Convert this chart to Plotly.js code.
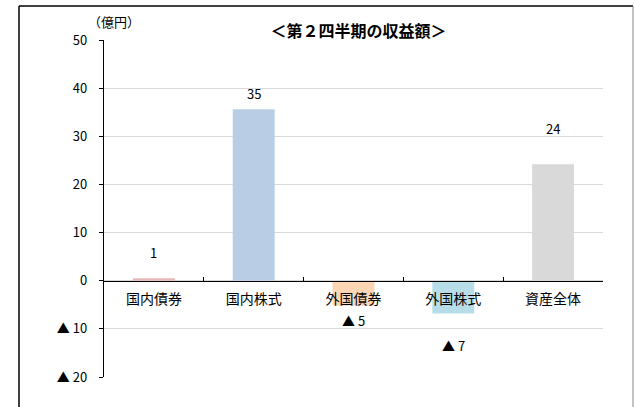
<!DOCTYPE html>
<html>
<head>
<meta charset="utf-8">
<script src="https://cdn.plot.ly/plotly-3.0.1.min.js"></script>
<style>
  html, body { margin: 0; padding: 0; background: #fff; }
  #chart { width: 635px; height: 407px; }
</style>
</head>
<body>
<div id="chart"></div>
<script>
const categories = ["国内債券", "国内株式", "外国債券", "外国株式", "資産全体"];
const values = [0.5, 35.6, -5.2, -6.8, 24.2];
const valueLabels = ["1", "35", "▲ 5", "▲ 7", "24"];
const barColors = ["#E6B9B8", "#B9CDE5", "#FCD5B5", "#B7DEE8", "#D9D9D9"];
const yTickVals = [50, 40, 30, 20, 10, 0, -10, -20];
const yTickText = ["50", "40", "30", "20", "10", "0", "▲ 10", "▲ 20"];
const titleText = "＜第２四半期の収益額＞";
const unitText = "（億円）";

// label pixel offsets (style only)
const labelShift = [26, 16, -15, -32, 36];

const font = "'Noto Sans CJK JP', 'Noto Sans', sans-serif";

const trace = {
  type: "bar",
  x: categories,
  y: values,
  marker: { color: barColors },
  width: 0.42,
  hoverinfo: "none"
};

const annotations = categories.map((c, i) => ({
  x: c, y: values[i], xref: "x", yref: "y",
  text: valueLabels[i], showarrow: false,
  yshift: labelShift[i],
  font: { family: font, size: 13, color: "#000" }
}));
annotations.push({
  xref: "paper", yref: "paper", x: (114 - 104) / 499, y: (377 - 22) / 337,
  xanchor: "center", yanchor: "middle",
  text: unitText, showarrow: false,
  font: { family: font, size: 13, color: "#000" }
});

const layout = {
  width: 635, height: 407,
  margin: { l: 104, r: 32, t: 40, b: 30 },
  paper_bgcolor: "#fff", plot_bgcolor: "#fff",
  showlegend: false,
  title: {
    text: "<b>" + titleText + "</b>",
    font: { family: font, size: 16, color: "#000" },
    x: 0.51, xref: "paper", xanchor: "center",
    y: 0.922, yref: "container", yanchor: "middle"
  },
  xaxis: {
    anchor: "free", position: 20 / 70,
    showline: true, linecolor: "#000", linewidth: 1.2,
    ticks: "inside", tickson: "boundaries", ticklen: 4, tickcolor: "#000",
    showgrid: false, zeroline: false,
    tickfont: { family: font, size: 14, color: "#000" },
    ticklabelstandoff: 5,
    range: [-0.5, 4.5], fixedrange: true
  },
  yaxis: {
    range: [-20, 50],
    tickvals: yTickVals, ticktext: yTickText,
    showline: true, linecolor: "#000", linewidth: 1.2,
    ticks: "outside", ticklen: 4, tickcolor: "#000",
    showgrid: true, gridcolor: "#D9D9D9", gridwidth: 1,
    zeroline: false,
    tickfont: { family: font, size: 13, color: "#000" },
    ticklabelstandoff: 9,
    fixedrange: true
  },
  annotations: annotations,
  shapes: [
    { type: "line", xref: "paper", yref: "paper",
      x0: (19 - 104) / 499, x1: (19 - 104) / 499, y0: (377 - 6) / 337, y1: -0.2,
      line: { color: "#000", width: 1.5 } },
    { type: "line", xref: "paper", yref: "paper",
      x0: (19 - 104) / 499, x1: (633 - 104) / 499, y0: (377 - 6) / 337, y1: (377 - 6) / 337,
      line: { color: "#000", width: 1.5 } },
    { type: "line", xref: "paper", yref: "paper",
      x0: (633 - 104) / 499, x1: (633 - 104) / 499, y0: (377 - 6) / 337, y1: -0.2,
      line: { color: "#888", width: 1 } }
  ]
};

Plotly.newPlot("chart", [trace], layout, { displayModeBar: false, staticPlot: true });
</script>
</body>
</html>
